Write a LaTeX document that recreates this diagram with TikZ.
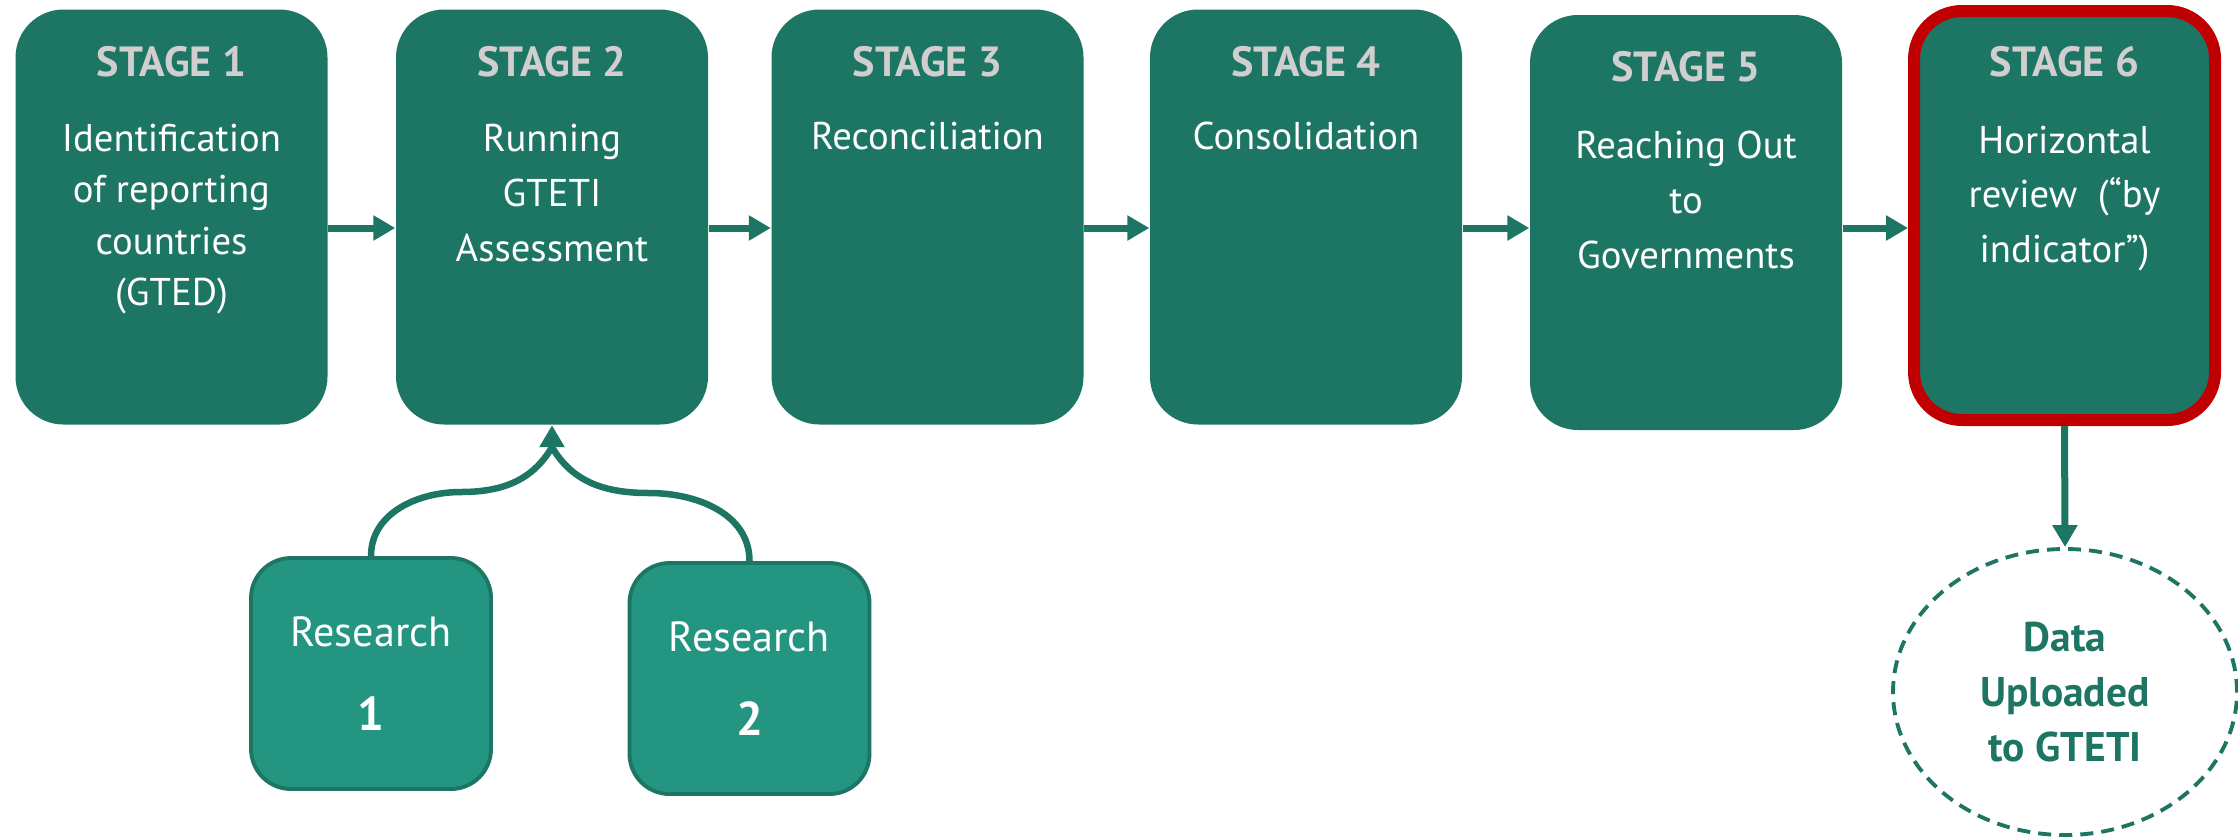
\documentclass[tikz,border=0pt]{standalone}
\usepackage{fontspec}
\setmainfont{PT Sans}
\usepackage{tikz}
\usetikzlibrary{arrows.meta, shapes.geometric}
\definecolor{gteal}{HTML}{1D7563}
\definecolor{rteal}{HTML}{239580}
\definecolor{shead}{HTML}{D0CECE}
\definecolor{sred}{HTML}{C00000}
\tikzset{
    stage/.style={fill=gteal, rounded corners=4.8mm, minimum width=3.12cm, minimum height=4.15cm, inner sep=0},
    last/.style={style=stage, draw=sred, line width=0.12cm, minimum width=3.01cm, minimum height=4.09cm}, % highlighted stage
    research/.style={fill=rteal, draw=gteal, line width=1.1pt, rounded corners=4mm, minimum width=2.4cm, minimum height=2.31cm, inner sep=0, align=center, text=white, font=\fontsize{12}{14.8}\selectfont},
    head/.style={anchor=base, text=shead, font=\fontsize{12}{14}\selectfont\bfseries}, % stage titles
    txt/.style={anchor=north, inner sep=0, text=white, align=center, font=\fontsize{11}{14.6}\selectfont, execute at begin node=\strut}, % stage texts
    wide/.style={style=txt, font=\fontsize{11}{15.6}\selectfont}, % looser lines
    flow/.style={draw=gteal, line width=0.07cm, -{Triangle[length=0.22cm, width=0.24cm]}},
    link/.style={draw=gteal, line width=0.065cm}, % curved research links
    upload/.style={ellipse, draw=gteal, line width=1.1pt, dash pattern=on 3.7pt off 2.3pt, minimum width=3.44cm, minimum height=2.86cm, inner sep=0, align=center, text=gteal, font=\fontsize{11.8}{15.6}\selectfont\bfseries}
}

\begin{document}
\begin{tikzpicture}
        \useasboundingbox (0,0) rectangle (22.38,8.36);

        \node[stage] (s1) at (1.715, 6.19) {};
        \node[stage] (s2) at (5.52, 6.19) {};
        \node[stage] (s3) at (9.275, 6.19) {};
        \node[stage] (s4) at (13.06, 6.19) {};
        \node[stage] (s5) at (16.86, 6.135) {};
        \node[last] (s6) at (20.645, 6.205) {};

        \node[head] (h1) at ([yshift=-6.8mm]s1.north) {STAGE 1};
        \node[txt] (t1) at ([yshift=-11.45mm]s1.north) {Identification\\of reporting\\countries\\(GTED)};
        \node[head] (h2) at ([yshift=-6.8mm]s2.north) {STAGE 2};
        \node[wide] (t2) at ([yshift=-11.5mm]s2.north) {Running\\GTETI\\Assessment};
        \node[head] (h3) at ([yshift=-6.8mm]s3.north) {STAGE 3};
        \node[txt] (t3) at ([yshift=-10.45mm]s3.north) {Reconciliation};
        \node[head] (h4) at ([yshift=-6.8mm]s4.north) {STAGE 4};
        \node[txt] (t4) at ([yshift=-10.45mm]s4.north) {Consolidation};
        \node[head] (h5) at ([yshift=-6.7mm]s5.north) {STAGE 5};
        \node[wide] (t5) at ([yshift=-11.6mm]s5.north) {Reaching Out\\to\\Governments};
        \node[head] (h6) at ([yshift=-7.1mm]s6.north) {STAGE 6};
        \node[wide] (t6) at ([yshift=-12mm]s6.north) {Horizontal\\review\ \ (“by\\indicator”)};

        \coordinate (axis) at (0, 6.08);
        \draw[flow] (s1.east |- axis) -- (s2.west |- axis);
        \draw[flow] (s2.east |- axis) -- (s3.west |- axis);
        \draw[flow] (s3.east |- axis) -- (s4.west |- axis);
        \draw[flow] (s4.east |- axis) -- (s5.west |- axis);
        \draw[flow] (s5.east |- axis) -- (s6.west |- axis);

        \node[research] (r1) at (3.71, 1.625) {Research\\[3.2mm]{\fontsize{13.5}{16}\selectfont\bfseries 1}};
        \node[research] (r2) at (7.495, 1.575) {Research\\[3.2mm]{\fontsize{13.5}{16}\selectfont\bfseries 2}};

        \coordinate (k1) at (4.61, 3.44);
        \coordinate (k2) at (6.49, 3.43);
        \coordinate (join) at (5.52, 3.89);
        \draw[link] (r1.north) to[out=90, in=180] (k1) to[out=0, in=240] (join);
        \draw[link] (r2.north) to[out=90, in=0] (k2) to[out=180, in=300] (join);
        \draw[flow] (join) -- (s2.south);

        \node[upload] (up) at (20.65, 1.44) {Data\\Uploaded\\to GTETI};
        \draw[flow] (s6.south) -- (up.north);
      \end{tikzpicture}
\end{document}
